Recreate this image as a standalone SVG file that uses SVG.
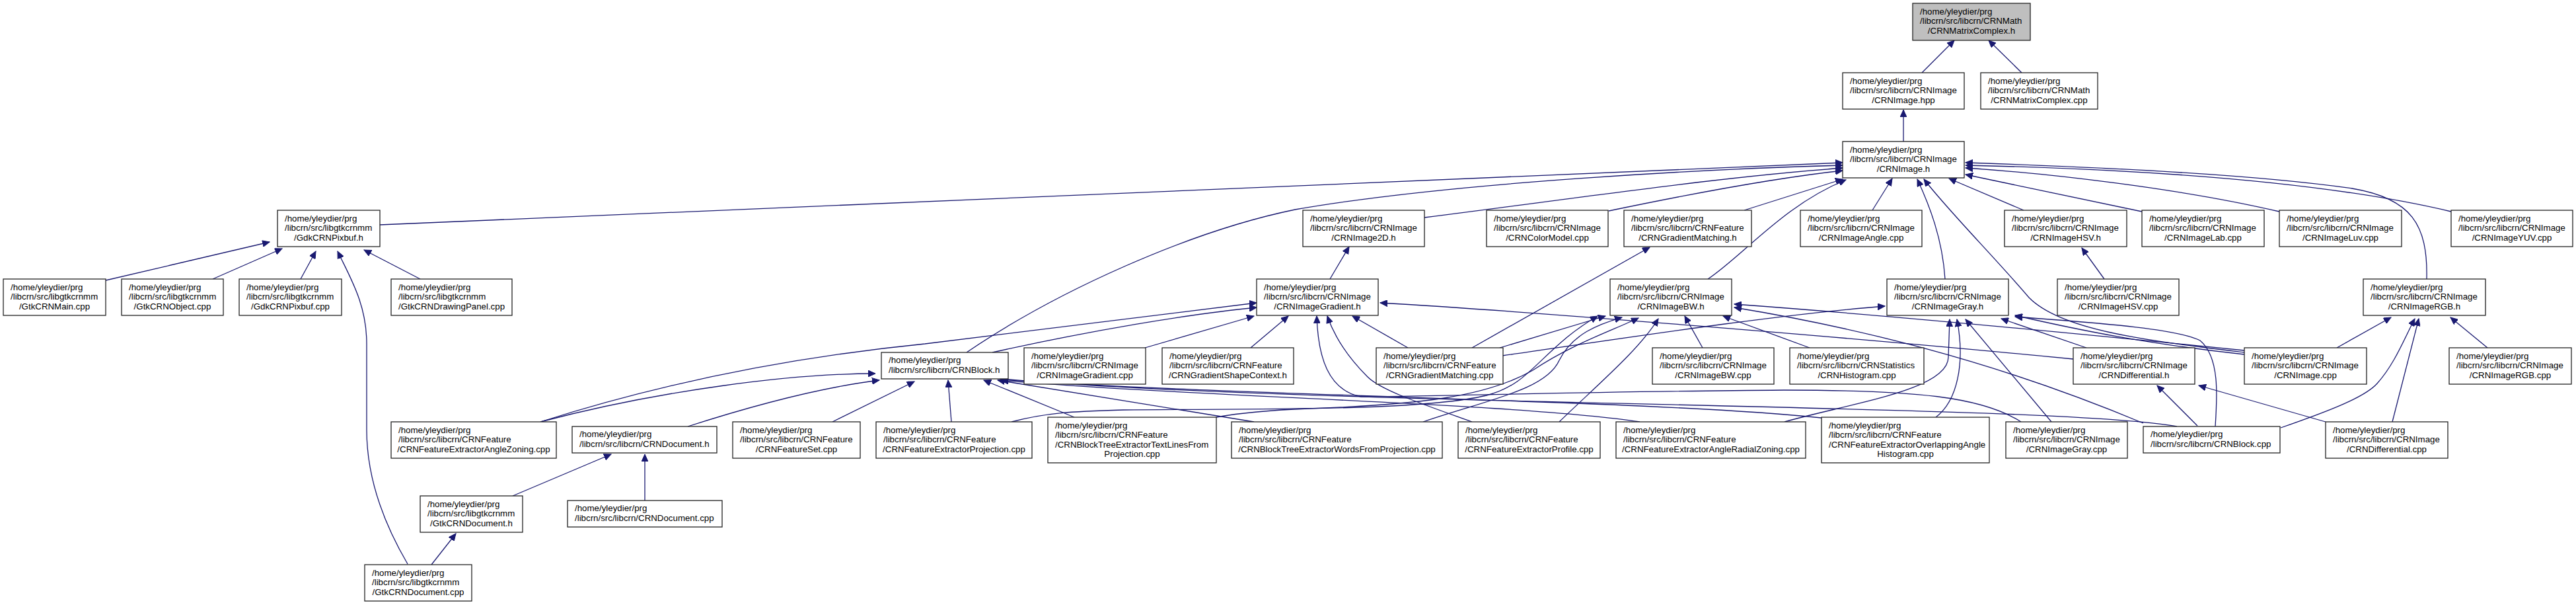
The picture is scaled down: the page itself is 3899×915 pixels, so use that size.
<svg xmlns="http://www.w3.org/2000/svg" width="3899" height="915" viewBox="0 0 3899 915">
<defs>
<marker id="ah" markerUnits="userSpaceOnUse" markerWidth="12" markerHeight="10" refX="11" refY="5" orient="auto">
<path d="M0,0 L11,5 L0,10 z" fill="#191970" stroke="#191970" stroke-width="1"/>
</marker>
<style>
.node rect{fill:#fff;stroke:#222;stroke-width:1.3}
.node rect.sel{fill:#bfbfbf}
text{font-family:"Liberation Sans",Arial,Helvetica,sans-serif;font-size:13.3px;fill:#000}
text.c{text-anchor:middle}
#edges path{fill:none;stroke:#191970;stroke-width:1.3;marker-end:url(#ah)}
</style>
</defs>
<rect width="3899" height="915" fill="#fff"/>
<g id="edges">
<path d="M2909,110 L2958,61"/>
<path d="M3060,110 L3010,61"/>
<path d="M2881,214 L2881,166"/>
<path d="M575,340 L2789,246"/>
<path d="M2156,329 C2400,298 2600,268 2789,254"/>
<path d="M2435,319 C2550,295 2680,270 2789,258"/>
<path d="M2640,318 L2789,271"/>
<path d="M2834,318 L2864,270"/>
<path d="M3063,318 L2950,270"/>
<path d="M3242,320 L2975,264"/>
<path d="M3450,320 C3300,285 3100,262 2975,254"/>
<path d="M3710,320 C3500,270 3200,255 2975,250"/>
<path d="M3673,422 C3675,340 3650,300 3560,285 C3400,262 3150,252 2975,246"/>
<path d="M1463,533 C1600,440 1800,350 1960,317 C2200,275 2600,255 2789,250"/>
<path d="M2585,422 C2640,385 2700,310 2794,272"/>
<path d="M2944,422 C2940,360 2920,310 2902,271"/>
<path d="M3397,533 C3250,515 3120,500 3071,450 C3020,390 2950,320 2912,271"/>
<path d="M160,424 L408,366"/>
<path d="M322,422 L427,376"/>
<path d="M455,422 L478,380"/>
<path d="M636,422 L551,378"/>
<path d="M617,853 C580,790 555,720 555,650 L555,520 C555,460 530,420 511,380"/>
<path d="M2013,422 L2042,373"/>
<path d="M2228,526 L2497,374"/>
<path d="M3185,422 L3151,375"/>
<path d="M1502,533 C1650,500 1800,475 1902,465"/>
<path d="M818,638 C1000,580 1200,540 1400,520 C1600,495 1800,470 1902,458"/>
<path d="M1733,526 L1898,478"/>
<path d="M1893,526 L1950,478"/>
<path d="M2131,526 L2047,478"/>
<path d="M2228,638 C2150,610 2090,590 2070,570 C2040,540 2020,510 2009,478"/>
<path d="M3059,638 C3000,600 2900,590 2700,590 C2400,592 2150,600 2060,600 C2010,590 1995,540 1993,478"/>
<path d="M3138,543 C2800,510 2300,470 2089,458"/>
<path d="M818,638 C1000,590 1200,565 1325,565"/>
<path d="M1041,645 C1150,610 1250,585 1331,575"/>
<path d="M1260,638 L1384,577"/>
<path d="M1440,638 L1435,575"/>
<path d="M1626,631 L1489,575"/>
<path d="M1898,638 L1510,575"/>
<path d="M2482,638 C2300,610 1800,600 1515,575"/>
<path d="M2757,632 C2500,605 1900,600 1515,574"/>
<path d="M3295,645 C3100,610 2000,615 1515,573"/>
<path d="M1531,638 C1580,625 1620,622 1700,620 C1900,618 2150,622 2250,598 C2320,580 2330,530 2418,478"/>
<path d="M1841,631 C1880,624 1930,620 1980,618 C2150,612 2250,600 2320,560 C2380,520 2440,500 2480,481"/>
<path d="M776,750 L925,687"/>
<path d="M976,757 L976,687"/>
<path d="M653,854 L690,807"/>
<path d="M2577,526 L2550,478"/>
<path d="M2739,526 L2608,478"/>
<path d="M2270,526 L2430,478"/>
<path d="M3397,530 C3200,510 2900,480 2625,460"/>
<path d="M3244,640 C3100,580 2900,510 2625,465"/>
<path d="M2154,638 C2250,605 2340,590 2360,545 C2380,505 2420,490 2455,480"/>
<path d="M2360,638 C2420,580 2480,530 2510,482"/>
<path d="M2274,538 C2500,505 2700,475 2853,463"/>
<path d="M3105,638 L2975,483"/>
<path d="M2930,631 C2962,607 2975,550 2962,483"/>
<path d="M2701,638 C2800,610 2949,590 2949,540 L2951,483"/>
<path d="M3158,526 L3029,482"/>
<path d="M3397,536 C3250,520 3150,500 3050,477"/>
<path d="M3353,645 C3356,600 3360,540 3330,515 C3290,495 3150,487 3050,479"/>
<path d="M3326,644 L3265,583"/>
<path d="M3520,638 L3328,583"/>
<path d="M3537,526 L3619,480"/>
<path d="M3765,526 L3709,480"/>
<path d="M3452,647 C3530,620 3580,600 3598,580 C3625,550 3640,510 3655,482"/>
<path d="M3621,638 L3661,482"/>
</g>
<g id="n0" class="node"><rect class="sel" x="2895" y="5" width="178" height="56"/><text x="2906" y="21.5">/home/yleydier/prg</text><text x="2906" y="36">/libcrn/src/libcrn/CRNMath</text><text class="c" x="2984" y="50.5">/CRNMatrixComplex.h</text></g>
<g id="n1" class="node"><rect x="2789" y="110" width="184" height="55"/><text x="2800" y="126.5">/home/yleydier/prg</text><text x="2800" y="141">/libcrn/src/libcrn/CRNImage</text><text class="c" x="2881" y="155.5">/CRNImage.hpp</text></g>
<g id="n2" class="node"><rect x="2998" y="110" width="177" height="55"/><text x="3009" y="126.5">/home/yleydier/prg</text><text x="3009" y="141">/libcrn/src/libcrn/CRNMath</text><text class="c" x="3086.5" y="155.5">/CRNMatrixComplex.cpp</text></g>
<g id="n3" class="node"><rect x="2789" y="214" width="184" height="55"/><text x="2800" y="230.5">/home/yleydier/prg</text><text x="2800" y="245">/libcrn/src/libcrn/CRNImage</text><text class="c" x="2881" y="259.5">/CRNImage.h</text></g>
<g id="n4" class="node"><rect x="420" y="318" width="155" height="55"/><text x="431" y="334.5">/home/yleydier/prg</text><text x="431" y="349">/libcrn/src/libgtkcrnmm</text><text class="c" x="497.5" y="363.5">/GdkCRNPixbuf.h</text></g>
<g id="n5" class="node"><rect x="1972" y="318" width="184" height="55"/><text x="1983" y="334.5">/home/yleydier/prg</text><text x="1983" y="349">/libcrn/src/libcrn/CRNImage</text><text class="c" x="2064" y="363.5">/CRNImage2D.h</text></g>
<g id="n6" class="node"><rect x="2250" y="318" width="184" height="55"/><text x="2261" y="334.5">/home/yleydier/prg</text><text x="2261" y="349">/libcrn/src/libcrn/CRNImage</text><text class="c" x="2342" y="363.5">/CRNColorModel.cpp</text></g>
<g id="n7" class="node"><rect x="2458" y="318" width="193" height="55"/><text x="2469" y="334.5">/home/yleydier/prg</text><text x="2469" y="349">/libcrn/src/libcrn/CRNFeature</text><text class="c" x="2554.5" y="363.5">/CRNGradientMatching.h</text></g>
<g id="n8" class="node"><rect x="2725" y="318" width="184" height="55"/><text x="2736" y="334.5">/home/yleydier/prg</text><text x="2736" y="349">/libcrn/src/libcrn/CRNImage</text><text class="c" x="2817" y="363.5">/CRNImageAngle.cpp</text></g>
<g id="n9" class="node"><rect x="3034" y="318" width="185" height="55"/><text x="3045" y="334.5">/home/yleydier/prg</text><text x="3045" y="349">/libcrn/src/libcrn/CRNImage</text><text class="c" x="3126.5" y="363.5">/CRNImageHSV.h</text></g>
<g id="n10" class="node"><rect x="3242" y="318" width="185" height="55"/><text x="3253" y="334.5">/home/yleydier/prg</text><text x="3253" y="349">/libcrn/src/libcrn/CRNImage</text><text class="c" x="3334.5" y="363.5">/CRNImageLab.cpp</text></g>
<g id="n11" class="node"><rect x="3450" y="318" width="185" height="55"/><text x="3461" y="334.5">/home/yleydier/prg</text><text x="3461" y="349">/libcrn/src/libcrn/CRNImage</text><text class="c" x="3542.5" y="363.5">/CRNImageLuv.cpp</text></g>
<g id="n12" class="node"><rect x="3710" y="318" width="184" height="55"/><text x="3721" y="334.5">/home/yleydier/prg</text><text x="3721" y="349">/libcrn/src/libcrn/CRNImage</text><text class="c" x="3802" y="363.5">/CRNImageYUV.cpp</text></g>
<g id="n13" class="node"><rect x="5" y="422" width="155" height="55"/><text x="16" y="438.5">/home/yleydier/prg</text><text x="16" y="453">/libcrn/src/libgtkcrnmm</text><text class="c" x="82.5" y="467.5">/GtkCRNMain.cpp</text></g>
<g id="n14" class="node"><rect x="184" y="422" width="154" height="55"/><text x="195" y="438.5">/home/yleydier/prg</text><text x="195" y="453">/libcrn/src/libgtkcrnmm</text><text class="c" x="261" y="467.5">/GtkCRNObject.cpp</text></g>
<g id="n15" class="node"><rect x="362" y="422" width="155" height="55"/><text x="373" y="438.5">/home/yleydier/prg</text><text x="373" y="453">/libcrn/src/libgtkcrnmm</text><text class="c" x="439.5" y="467.5">/GdkCRNPixbuf.cpp</text></g>
<g id="n16" class="node"><rect x="592" y="422" width="183" height="55"/><text x="603" y="438.5">/home/yleydier/prg</text><text x="603" y="453">/libcrn/src/libgtkcrnmm</text><text class="c" x="683.5" y="467.5">/GtkCRNDrawingPanel.cpp</text></g>
<g id="n17" class="node"><rect x="1902" y="422" width="184" height="55"/><text x="1913" y="438.5">/home/yleydier/prg</text><text x="1913" y="453">/libcrn/src/libcrn/CRNImage</text><text class="c" x="1994" y="467.5">/CRNImageGradient.h</text></g>
<g id="n18" class="node"><rect x="2437" y="422" width="184" height="55"/><text x="2448" y="438.5">/home/yleydier/prg</text><text x="2448" y="453">/libcrn/src/libcrn/CRNImage</text><text class="c" x="2529" y="467.5">/CRNImageBW.h</text></g>
<g id="n19" class="node"><rect x="2856" y="422" width="184" height="55"/><text x="2867" y="438.5">/home/yleydier/prg</text><text x="2867" y="453">/libcrn/src/libcrn/CRNImage</text><text class="c" x="2948" y="467.5">/CRNImageGray.h</text></g>
<g id="n20" class="node"><rect x="3114" y="422" width="184" height="55"/><text x="3125" y="438.5">/home/yleydier/prg</text><text x="3125" y="453">/libcrn/src/libcrn/CRNImage</text><text class="c" x="3206" y="467.5">/CRNImageHSV.cpp</text></g>
<g id="n21" class="node"><rect x="3577" y="422" width="185" height="55"/><text x="3588" y="438.5">/home/yleydier/prg</text><text x="3588" y="453">/libcrn/src/libcrn/CRNImage</text><text class="c" x="3669.5" y="467.5">/CRNImageRGB.h</text></g>
<g id="n22" class="node"><rect x="1334" y="533" width="192" height="40"/><text x="1345" y="549">/home/yleydier/prg</text><text x="1345" y="563.5">/libcrn/src/libcrn/CRNBlock.h</text></g>
<g id="n23" class="node"><rect x="1550" y="526" width="184" height="55"/><text x="1561" y="542.5">/home/yleydier/prg</text><text x="1561" y="557">/libcrn/src/libcrn/CRNImage</text><text class="c" x="1642" y="571.5">/CRNImageGradient.cpp</text></g>
<g id="n24" class="node"><rect x="1759" y="526" width="199" height="55"/><text x="1770" y="542.5">/home/yleydier/prg</text><text x="1770" y="557">/libcrn/src/libcrn/CRNFeature</text><text class="c" x="1858.5" y="571.5">/CRNGradientShapeContext.h</text></g>
<g id="n25" class="node"><rect x="2083" y="526" width="192" height="55"/><text x="2094" y="542.5">/home/yleydier/prg</text><text x="2094" y="557">/libcrn/src/libcrn/CRNFeature</text><text class="c" x="2179" y="571.5">/CRNGradientMatching.cpp</text></g>
<g id="n26" class="node"><rect x="2501" y="526" width="184" height="55"/><text x="2512" y="542.5">/home/yleydier/prg</text><text x="2512" y="557">/libcrn/src/libcrn/CRNImage</text><text class="c" x="2593" y="571.5">/CRNImageBW.cpp</text></g>
<g id="n27" class="node"><rect x="2709" y="526" width="203" height="55"/><text x="2720" y="542.5">/home/yleydier/prg</text><text x="2720" y="557">/libcrn/src/libcrn/CRNStatistics</text><text class="c" x="2810.5" y="571.5">/CRNHistogram.cpp</text></g>
<g id="n28" class="node"><rect x="3138" y="526" width="184" height="55"/><text x="3149" y="542.5">/home/yleydier/prg</text><text x="3149" y="557">/libcrn/src/libcrn/CRNImage</text><text class="c" x="3230" y="571.5">/CRNDifferential.h</text></g>
<g id="n29" class="node"><rect x="3397" y="526" width="185" height="55"/><text x="3408" y="542.5">/home/yleydier/prg</text><text x="3408" y="557">/libcrn/src/libcrn/CRNImage</text><text class="c" x="3489.5" y="571.5">/CRNImage.cpp</text></g>
<g id="n30" class="node"><rect x="3707" y="526" width="185" height="55"/><text x="3718" y="542.5">/home/yleydier/prg</text><text x="3718" y="557">/libcrn/src/libcrn/CRNImage</text><text class="c" x="3799.5" y="571.5">/CRNImageRGB.cpp</text></g>
<g id="n31" class="node"><rect x="592" y="638" width="250" height="55"/><text x="603" y="654.5">/home/yleydier/prg</text><text x="603" y="669">/libcrn/src/libcrn/CRNFeature</text><text class="c" x="717" y="683.5">/CRNFeatureExtractorAngleZoning.cpp</text></g>
<g id="n32" class="node"><rect x="866" y="645" width="219" height="40"/><text x="877" y="661">/home/yleydier/prg</text><text x="877" y="675.5">/libcrn/src/libcrn/CRNDocument.h</text></g>
<g id="n33" class="node"><rect x="1109" y="638" width="193" height="55"/><text x="1120" y="654.5">/home/yleydier/prg</text><text x="1120" y="669">/libcrn/src/libcrn/CRNFeature</text><text class="c" x="1205.5" y="683.5">/CRNFeatureSet.cpp</text></g>
<g id="n34" class="node"><rect x="1326" y="638" width="236" height="55"/><text x="1337" y="654.5">/home/yleydier/prg</text><text x="1337" y="669">/libcrn/src/libcrn/CRNFeature</text><text class="c" x="1444" y="683.5">/CRNFeatureExtractorProjection.cpp</text></g>
<g id="n35" class="node"><rect x="1586" y="631" width="255" height="69"/><text x="1597" y="647.5">/home/yleydier/prg</text><text x="1597" y="662">/libcrn/src/libcrn/CRNFeature</text><text x="1597" y="676.5">/CRNBlockTreeExtractorTextLinesFrom</text><text class="c" x="1713.5" y="691">Projection.cpp</text></g>
<g id="n36" class="node"><rect x="1864" y="638" width="319" height="55"/><text x="1875" y="654.5">/home/yleydier/prg</text><text x="1875" y="669">/libcrn/src/libcrn/CRNFeature</text><text class="c" x="2023.5" y="683.5">/CRNBlockTreeExtractorWordsFromProjection.cpp</text></g>
<g id="n37" class="node"><rect x="2207" y="638" width="215" height="55"/><text x="2218" y="654.5">/home/yleydier/prg</text><text x="2218" y="669">/libcrn/src/libcrn/CRNFeature</text><text class="c" x="2314.5" y="683.5">/CRNFeatureExtractorProfile.cpp</text></g>
<g id="n38" class="node"><rect x="2446" y="638" width="287" height="55"/><text x="2457" y="654.5">/home/yleydier/prg</text><text x="2457" y="669">/libcrn/src/libcrn/CRNFeature</text><text class="c" x="2589.5" y="683.5">/CRNFeatureExtractorAngleRadialZoning.cpp</text></g>
<g id="n39" class="node"><rect x="2757" y="631" width="254" height="69"/><text x="2768" y="647.5">/home/yleydier/prg</text><text x="2768" y="662">/libcrn/src/libcrn/CRNFeature</text><text x="2768" y="676.5">/CRNFeatureExtractorOverlappingAngle</text><text class="c" x="2884" y="691">Histogram.cpp</text></g>
<g id="n40" class="node"><rect x="3036" y="638" width="184" height="55"/><text x="3047" y="654.5">/home/yleydier/prg</text><text x="3047" y="669">/libcrn/src/libcrn/CRNImage</text><text class="c" x="3128" y="683.5">/CRNImageGray.cpp</text></g>
<g id="n41" class="node"><rect x="3244" y="645" width="207" height="40"/><text x="3255" y="661">/home/yleydier/prg</text><text x="3255" y="675.5">/libcrn/src/libcrn/CRNBlock.cpp</text></g>
<g id="n42" class="node"><rect x="3520" y="638" width="185" height="55"/><text x="3531" y="654.5">/home/yleydier/prg</text><text x="3531" y="669">/libcrn/src/libcrn/CRNImage</text><text class="c" x="3612.5" y="683.5">/CRNDifferential.cpp</text></g>
<g id="n43" class="node"><rect x="636" y="750" width="155" height="55"/><text x="647" y="766.5">/home/yleydier/prg</text><text x="647" y="781">/libcrn/src/libgtkcrnmm</text><text class="c" x="713.5" y="795.5">/GtkCRNDocument.h</text></g>
<g id="n44" class="node"><rect x="859" y="757" width="234" height="40"/><text x="870" y="773">/home/yleydier/prg</text><text x="870" y="787.5">/libcrn/src/libcrn/CRNDocument.cpp</text></g>
<g id="n45" class="node"><rect x="552" y="854" width="162" height="55"/><text x="563" y="870.5">/home/yleydier/prg</text><text x="563" y="885">/libcrn/src/libgtkcrnmm</text><text class="c" x="633" y="899.5">/GtkCRNDocument.cpp</text></g>
</svg>
